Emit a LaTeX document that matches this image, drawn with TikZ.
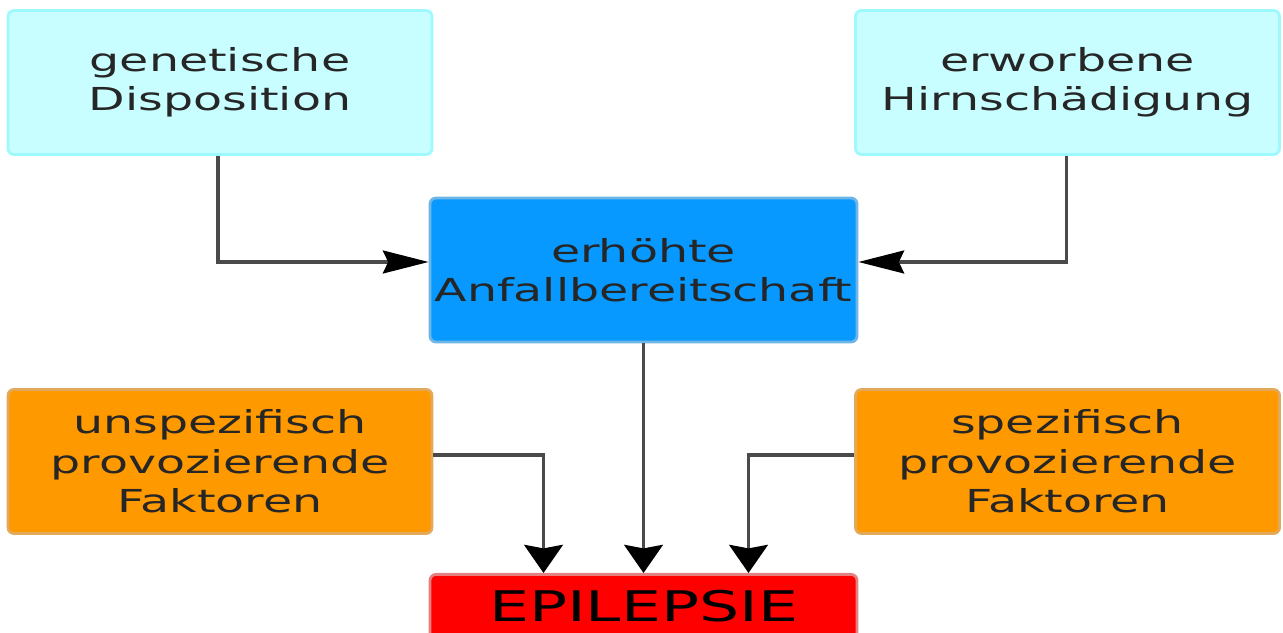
\documentclass[tikz,border=0pt]{standalone}
\usepackage{fontspec}
\usepackage{tikz}
\usetikzlibrary{arrows.meta}
\newfontfamily\boxfont[FakeStretch=1.5]{DejaVu Sans}
\definecolor{cyanfill}{HTML}{C8FEFF}
\definecolor{cyanline}{HTML}{9EF9FF}
\definecolor{bluefill}{HTML}{0799FF}
\definecolor{blueline}{HTML}{6DB6E6}
\definecolor{orangefill}{HTML}{FF9900}
\definecolor{orangeline}{HTML}{E2A95A}
\definecolor{redfill}{HTML}{FF0000}
\definecolor{redline}{HTML}{E58080}
\definecolor{wire}{HTML}{4A4A4A}
\tikzset{
  box/.style={rounded corners=0.6mm, line width=0.8pt, minimum width=4.24cm, minimum height=1.44cm,
    align=center, inner sep=0pt, font=\boxfont\fontsize{9}{11.2}\selectfont, text=black!85},
  cause/.style={box, fill=cyanfill, draw=cyanline},
  state/.style={box, fill=bluefill, draw=blueline},
  trigger/.style={box, fill=orangefill, draw=orangeline},
  result/.style={box, fill=redfill, draw=redline, font=\boxfont\fontsize{12}{14}\selectfont, text=black},
  wireh/.style={draw=wire, line width=1pt, -{Stealth[length=13pt, width=6.5pt, inset=1.5pt, color=black]}},
  wirev/.style={draw=wire, line width=1pt, -{Stealth[length=8pt, width=11pt, inset=1pt, color=black]}},
}

\begin{document}
\begin{tikzpicture}
  \useasboundingbox (0,0) rectangle (12.83,6.33);
  \clip (0,0) rectangle (12.83,6.33);
  \node[cause] (gen) at (2.20,5.505) {genetische\\Disposition};
  \node[cause] (erw) at (10.675,5.505) {erworbene\\Hirnschädigung};
  \node[state, minimum width=4.27cm] (anf) at (6.435,3.63) {erhöhte\\Anfallbereitschaft};
  \node[trigger] (unsp) at (2.20,1.715) {unspezifisch\\provozierende\\Faktoren};
  \node[trigger] (spez) at (10.675,1.715) {spezifisch\\provozierende\\Faktoren};
  % box runs past the lower edge
  \node[result, minimum width=4.27cm, text height=0.47cm, text depth=1cm, anchor=north] (epi) at (6.435,0.60) {EPILEPSIE};
  \draw[wireh] ([xshift=-0.02cm]gen.south) |- ([yshift=0.08cm]anf.west);
  \draw[wireh] ([xshift=-0.01cm]erw.south) |- ([yshift=0.08cm]anf.east);
  \draw[wirev] (anf.south) -- (epi.north);
  \draw[wirev] ([yshift=0.065cm]unsp.east) -| ([xshift=-1cm]epi.north);
  \draw[wirev] ([yshift=0.065cm]spez.west) -| ([xshift=1.05cm]epi.north);
\end{tikzpicture}
\end{document}
